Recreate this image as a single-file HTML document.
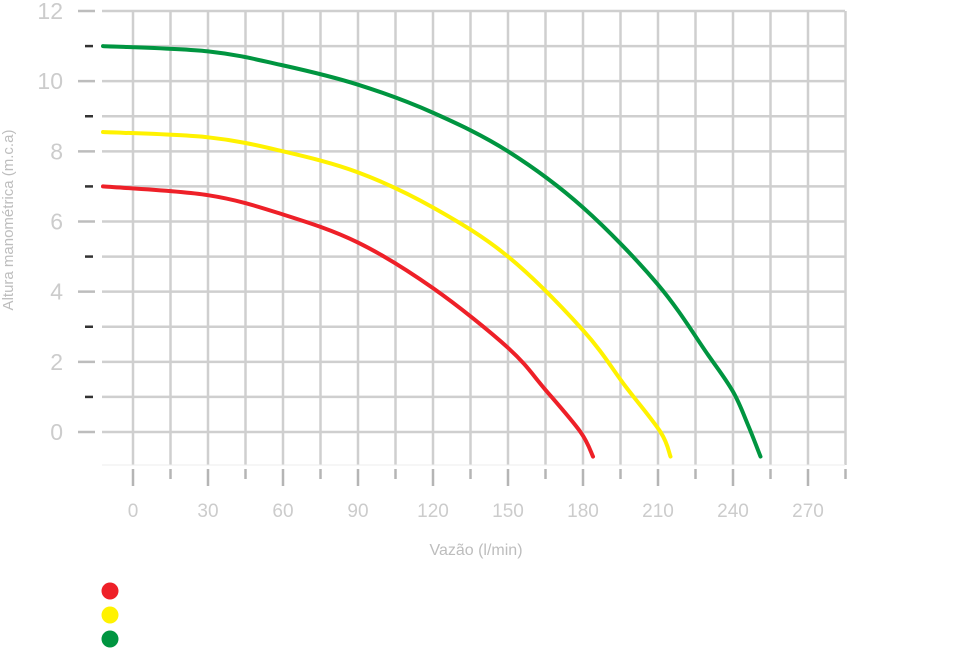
<!DOCTYPE html>
<html><head><meta charset="utf-8"><style>
body{margin:0;background:#fff;}
svg{display:block;font-family:"Liberation Sans",sans-serif;}
</style></head><body>
<svg id="c" width="953" height="648"></svg>
<script>
const xTicks=[0,30,60,90,120,150,180,210,240,270];
const yTicks=[0,2,4,6,8,10,12];
const seriesNames=["red","yellow","green"];
const seriesColors=["#ee2028","#fff200","#009540"];
const redX=[-12,30,60,90,120,150,165,179,184];
const redY=[7.0,6.75,6.2,5.4,4.1,2.4,1.2,0,-0.7];
const yellowX=[-12,30,60,90,120,150,180,197,211,215];
const yellowY=[8.55,8.4,8.0,7.4,6.4,5.0,2.9,1.3,0,-0.7];
const greenX=[-12,30,60,90,120,150,180,210,230,240,246,251];
const greenY=[11.0,10.85,10.45,9.9,9.1,8.0,6.4,4.2,2.2,1.15,0.2,-0.7];
const xs=[redX,yellowX,greenX], ys=[redY,yellowY,greenY];
const NS="http://www.w3.org/2000/svg";
const svg=document.getElementById('c');
const sx=v=>133+v*2.5, sy=v=>432-v*35.083;
function mk(t,a,p){const e=document.createElementNS(NS,t);for(const k in a)e.setAttribute(k,a[k]);(p||svg).appendChild(e);return e;}
const gx0=102,gx1=845,gy0=11,gy1=465;
for(let v=0;v<=285;v+=15){
 const l=mk('line',{x1:sx(v),x2:sx(v),y1:gy0,y2:gy1,stroke:'#cfcfcf','stroke-width':2.5});
 
 
 const major=v%30===0;
 const t=mk('line',{x1:sx(v),x2:sx(v),y1:469,y2:major?486:479,stroke:'#b5b5b5','stroke-width':2.5});
 
 
}
for(let v=0;v<=12;v+=1){
 const l=mk('line',{x1:gx0,x2:gx1,y1:sy(v),y2:sy(v),stroke:'#cfcfcf','stroke-width':2.5});
 
 
 const major=v%2===0;
 const t=mk('line',{x1:major?78:85,x2:major?95:93,y1:sy(v),y2:sy(v),stroke:major?'#bdbdbd':'#333','stroke-width':2.5});
 
 
}
const bl=mk('line',{x1:gx0,x2:gx1,y1:gy1,y2:gy1,stroke:'#eeeeee','stroke-width':1});


yTicks.forEach(v=>{const t=mk('text',{x:63,y:sy(v)+8,'text-anchor':'end','font-size':23,fill:'#cccccc'});t.textContent=v;
 
 });
xTicks.forEach(v=>{const t=mk('text',{x:sx(v),y:517,'text-anchor':'middle','font-size':19,fill:'#cccccc'});t.textContent=v;
 
 });
const xt=mk('text',{x:476,y:555,'text-anchor':'middle','font-size':16,fill:'#bdbdbd'});xt.textContent='Vazão (l/min)';


const yt=mk('text',{x:0,y:0,'text-anchor':'middle','font-size':15,fill:'#bdbdbd',transform:'translate(13,220) rotate(-90)'});yt.textContent='Altura manométrica  (m.c.a)';


function path(X,Y){
 const P=X.map((x,i)=>[sx(x),sy(Y[i])]);
 let d='M'+P[0][0]+','+P[0][1];
 for(let i=0;i<P.length-1;i++){
  const p0=P[i-1]||P[i],p1=P[i],p2=P[i+1],p3=P[i+2]||P[i+1];
  const c1=[p1[0]+(p2[0]-p0[0])/6,p1[1]+(p2[1]-p0[1])/6];
  const c2=[p2[0]-(p3[0]-p1[0])/6,p2[1]-(p3[1]-p1[1])/6];
  d+=` C${c1[0]},${c1[1]} ${c2[0]},${c2[1]} ${p2[0]},${p2[1]}`;
 }
 return d;
}
seriesNames.forEach((n,i)=>{
 const p=mk('path',{d:path(xs[i],ys[i]),fill:'none',stroke:seriesColors[i],'stroke-width':4,'stroke-linecap':'round'});
 
 
 const c=mk('circle',{cx:110,cy:591+i*24,r:8.5,fill:seriesColors[i]});
 
 
});
</script>
</body></html>
